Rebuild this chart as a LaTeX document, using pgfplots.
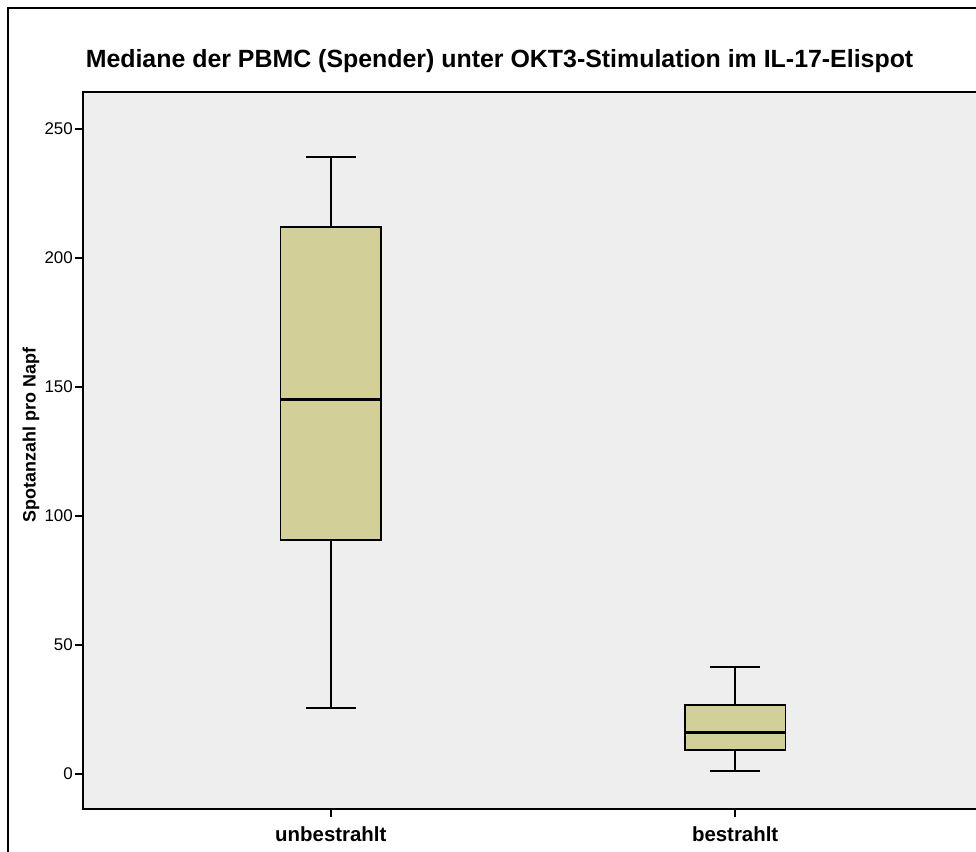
\documentclass[border=0pt]{standalone}
\usepackage{pgfplots}
\pgfplotsset{compat=1.18}
\usepgfplotslibrary{statistics}
\usepackage{fontspec}
\setmainfont{Liberation Sans}
\definecolor{boxfill}{HTML}{D3CF98}
\definecolor{plotbg}{HTML}{EEEEEE}
\begin{document}
\begin{tikzpicture}
\begin{scope}
\clip (0,0) rectangle (976bp,-852bp);
\fill[white] (0,0) rectangle (976bp,-852bp);
\draw[line width=1.2bp] (8bp,-8bp) rectangle (1000bp,-900bp);
\begin{axis}[
  at={(83bp,-809bp)}, anchor=south west,
  scale only axis, width=900bp, height=717bp,
  xmin=-0.613, xmax=1.613, ymin=-13.6, ymax=264.3,
  axis background/.style={fill=plotbg},
  axis line style={line width=1.4bp},
  xtick={0,1}, xticklabels={unbestrahlt,bestrahlt},
  ytick={0,50,100,150,200,250},
  xtick pos=bottom, ytick pos=left,
  tick align=outside,
  tick style={line width=1.4bp, black},
  major tick length=8bp,
  /pgf/number format/assume math mode=true,
  yticklabel style={font=\fontsize{17}{20}\selectfont, inner sep=2bp},
  xticklabel style={font=\bfseries\fontsize{20.5}{24}\selectfont, inner sep=4bp, yshift=-5bp},
  title={Mediane der PBMC (Spender) unter OKT3-Stimulation im IL-17-Elispot},
  title style={font=\bfseries\fontsize{25}{29}\selectfont, at={(axis description cs:0.4628,1.0265)}, anchor=base},
  ylabel={Spotanzahl pro Napf},
  ylabel style={font=\bfseries\fontsize{18}{22}\selectfont, at={(axis description cs:-0.0578,0.5216)}, anchor=center, rotate=0},
  boxplot/draw direction=y,
  boxplot/every median/.style={line width=3bp},
  boxplot/every whisker/.style={fill=none, line width=1.6bp},
]
\addplot[boxplot prepared={draw position=0, median=145.3, upper quartile=212.0, lower quartile=90.7, upper whisker=239.1, lower whisker=25.6, box extend=0.248, whisker extend=0.124}, draw=black, fill=boxfill, line width=1.4bp] coordinates {};
\addplot[boxplot prepared={draw position=1, median=15.9, upper quartile=26.7, lower quartile=9.3, upper whisker=41.5, lower whisker=1.2, box extend=0.248, whisker extend=0.124}, draw=black, fill=boxfill, line width=1.4bp] coordinates {};
\end{axis}
\end{scope}
\pgfresetboundingbox
\useasboundingbox (0,0) rectangle (976bp,-852bp);
\end{tikzpicture}
\end{document}
